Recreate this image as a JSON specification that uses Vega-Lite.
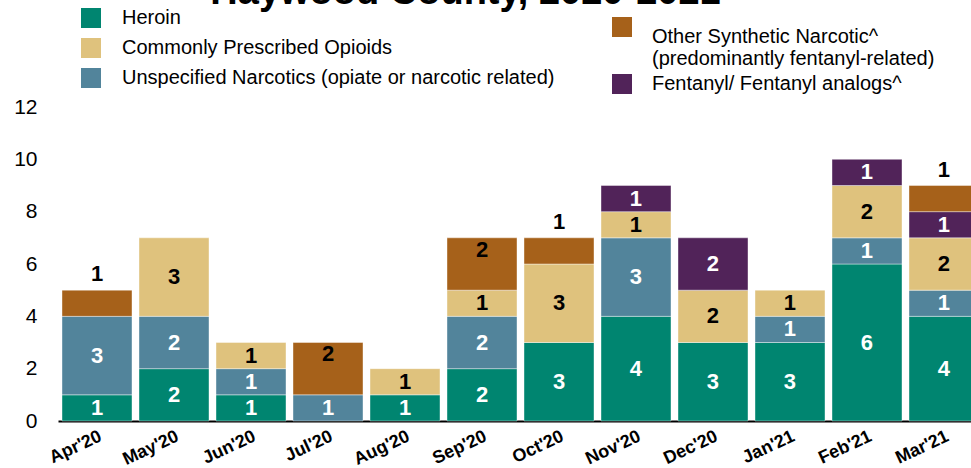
{
  "$schema": "https://vega.github.io/schema/vega-lite/v6.json",
  "width": 913,
  "height": 314,
  "autosize": {"type": "none"},
  "padding": {"left": 58, "top": 107, "right": 0, "bottom": 47},
  "background": "white",
  "title": {"text": "Haywood County, 2020-2021", "fontSize": 38, "fontWeight": "bold", "font": "Liberation Sans", "color": "black", "anchor": "middle", "dx": -49, "dy": 4, "offset": 0},
  "config": {"view": {"stroke": null}, "font": "Liberation Sans"},
  "data": {"values": [
    {"month": "Apr'20", "cat": "Heroin", "n": 1},
    {"month": "Apr'20", "cat": "Unspecified Narcotics (opiate or narcotic related)", "n": 3},
    {"month": "Apr'20", "cat": "Other Synthetic Narcotic^ (predominantly fentanyl-related)", "n": 1},
    {"month": "May'20", "cat": "Heroin", "n": 2},
    {"month": "May'20", "cat": "Unspecified Narcotics (opiate or narcotic related)", "n": 2},
    {"month": "May'20", "cat": "Commonly Prescribed Opioids", "n": 3},
    {"month": "Jun'20", "cat": "Heroin", "n": 1},
    {"month": "Jun'20", "cat": "Unspecified Narcotics (opiate or narcotic related)", "n": 1},
    {"month": "Jun'20", "cat": "Commonly Prescribed Opioids", "n": 1},
    {"month": "Jul'20", "cat": "Unspecified Narcotics (opiate or narcotic related)", "n": 1},
    {"month": "Jul'20", "cat": "Other Synthetic Narcotic^ (predominantly fentanyl-related)", "n": 2},
    {"month": "Aug'20", "cat": "Heroin", "n": 1},
    {"month": "Aug'20", "cat": "Commonly Prescribed Opioids", "n": 1},
    {"month": "Sep'20", "cat": "Heroin", "n": 2},
    {"month": "Sep'20", "cat": "Unspecified Narcotics (opiate or narcotic related)", "n": 2},
    {"month": "Sep'20", "cat": "Commonly Prescribed Opioids", "n": 1},
    {"month": "Sep'20", "cat": "Other Synthetic Narcotic^ (predominantly fentanyl-related)", "n": 2},
    {"month": "Oct'20", "cat": "Heroin", "n": 3},
    {"month": "Oct'20", "cat": "Commonly Prescribed Opioids", "n": 3},
    {"month": "Oct'20", "cat": "Other Synthetic Narcotic^ (predominantly fentanyl-related)", "n": 1},
    {"month": "Nov'20", "cat": "Heroin", "n": 4},
    {"month": "Nov'20", "cat": "Unspecified Narcotics (opiate or narcotic related)", "n": 3},
    {"month": "Nov'20", "cat": "Commonly Prescribed Opioids", "n": 1},
    {"month": "Nov'20", "cat": "Fentanyl/ Fentanyl analogs^", "n": 1},
    {"month": "Dec'20", "cat": "Heroin", "n": 3},
    {"month": "Dec'20", "cat": "Commonly Prescribed Opioids", "n": 2},
    {"month": "Dec'20", "cat": "Fentanyl/ Fentanyl analogs^", "n": 2},
    {"month": "Jan'21", "cat": "Heroin", "n": 3},
    {"month": "Jan'21", "cat": "Unspecified Narcotics (opiate or narcotic related)", "n": 1},
    {"month": "Jan'21", "cat": "Commonly Prescribed Opioids", "n": 1},
    {"month": "Feb'21", "cat": "Heroin", "n": 6},
    {"month": "Feb'21", "cat": "Unspecified Narcotics (opiate or narcotic related)", "n": 1},
    {"month": "Feb'21", "cat": "Commonly Prescribed Opioids", "n": 2},
    {"month": "Feb'21", "cat": "Fentanyl/ Fentanyl analogs^", "n": 1},
    {"month": "Mar'21", "cat": "Heroin", "n": 4},
    {"month": "Mar'21", "cat": "Unspecified Narcotics (opiate or narcotic related)", "n": 1},
    {"month": "Mar'21", "cat": "Commonly Prescribed Opioids", "n": 2},
    {"month": "Mar'21", "cat": "Fentanyl/ Fentanyl analogs^", "n": 1},
    {"month": "Mar'21", "cat": "Other Synthetic Narcotic^ (predominantly fentanyl-related)", "n": 1}
  ]},
  "transform": [
    {"calculate": "indexof(['Heroin','Unspecified Narcotics (opiate or narcotic related)','Commonly Prescribed Opioids','Fentanyl/ Fentanyl analogs^','Other Synthetic Narcotic^ (predominantly fentanyl-related)'], datum.cat)", "as": "ord"},
    {"stack": "n", "groupby": ["month"], "sort": [{"field": "ord", "order": "ascending"}], "as": ["y0", "y1"]},
    {"calculate": "datum.ord == 4 ? (datum.n == 1 ? datum.y1 + 0.6 : datum.y1 - 0.45) : (datum.y0 + datum.y1) / 2", "as": "ly"}
  ],
  "encoding": {
    "x": {
      "field": "month", "type": "ordinal",
      "sort": ["Apr'20","May'20","Jun'20","Jul'20","Aug'20","Sep'20","Oct'20","Nov'20","Dec'20","Jan'21","Feb'21","Mar'21"],
      "scale": {"range": [0, 925], "paddingInner": 0.091, "paddingOuter": 0.052},
      "axis": {"title": null, "domain": true, "domainColor": "black", "domainWidth": 2, "ticks": false, "labelAngle": -25, "labelAlign": "right", "labelBaseline": "top", "labelFontSize": 18, "labelFontWeight": "bold", "labelColor": "black", "labelPadding": 6, "labelFont": "Liberation Sans"}
    }
  },
  "layer": [
    {
      "transform": [{"filter": "datum.ord <= 2"}],
      "mark": {"type": "bar", "stroke": "white", "strokeWidth": 1, "strokeOpacity": 0.4},
      "encoding": {
        "y": {"field": "y0", "type": "quantitative", "scale": {"domain": [0, 12]},
              "axis": {"title": null, "domain": false, "ticks": false, "grid": false, "values": [0,2,4,6,8,10,12], "labelFontSize": 21, "labelColor": "black", "labelPadding": 21, "labelFont": "Liberation Sans"}},
        "y2": {"field": "y1"},
        "color": {
          "field": "cat", "type": "nominal",
          "scale": {"domain": ["Heroin", "Commonly Prescribed Opioids", "Unspecified Narcotics (opiate or narcotic related)"], "range": ["#008570", "#DFC27D", "#52849B"]},
          "legend": {"orient": "none", "legendX": 23, "legendY": -99, "title": null, "padding": 0, "symbolType": "square", "symbolSize": 400, "symbolStrokeWidth": 0, "symbolOpacity": 1, "labelFontSize": 20, "labelFont": "Liberation Sans", "labelColor": "black", "labelOffset": 21, "rowPadding": 10, "labelLimit": 700}
        }
      }
    },
    {
      "transform": [{"filter": "datum.ord >= 3"}],
      "mark": {"type": "bar", "stroke": "white", "strokeWidth": 1, "strokeOpacity": 0.4},
      "encoding": {
        "y": {"field": "y0", "type": "quantitative"},
        "y2": {"field": "y1"},
        "color": {
          "field": "cat", "type": "nominal",
          "scale": {"domain": ["Other Synthetic Narcotic^ (predominantly fentanyl-related)", "Fentanyl/ Fentanyl analogs^"], "range": ["#A6611A", "#512359"]},
          "legend": {"orient": "none", "legendX": 554, "legendY": -90, "title": null, "padding": 0, "symbolType": "square", "symbolSize": 400, "symbolStrokeWidth": 0, "symbolOpacity": 1, "labelFontSize": 20, "labelFont": "Liberation Sans", "labelColor": "black", "labelOffset": 20, "rowPadding": 5, "labelLimit": 700,
            "labelBaseline": {"expr": "datum.label == 'Other Synthetic Narcotic^ (predominantly fentanyl-related)' ? 'top' : 'middle'"},
            "labelExpr": "datum.label == 'Other Synthetic Narcotic^ (predominantly fentanyl-related)' ? ['Other Synthetic Narcotic^', '(predominantly fentanyl-related)'] : datum.label"}
        }
      }
    },
    {
      "mark": {"type": "text", "fontSize": 22, "fontWeight": "bold", "font": "Liberation Sans", "baseline": "middle", "align": "center"},
      "encoding": {
        "y": {"field": "ly", "type": "quantitative"},
        "text": {"field": "n", "type": "quantitative"},
        "color": {"condition": {"test": "datum.ord == 0 || datum.ord == 1 || datum.ord == 3", "value": "white"}, "value": "black"}
      }
    }
  ],
  "resolve": {"scale": {"color": "independent"}}
}
